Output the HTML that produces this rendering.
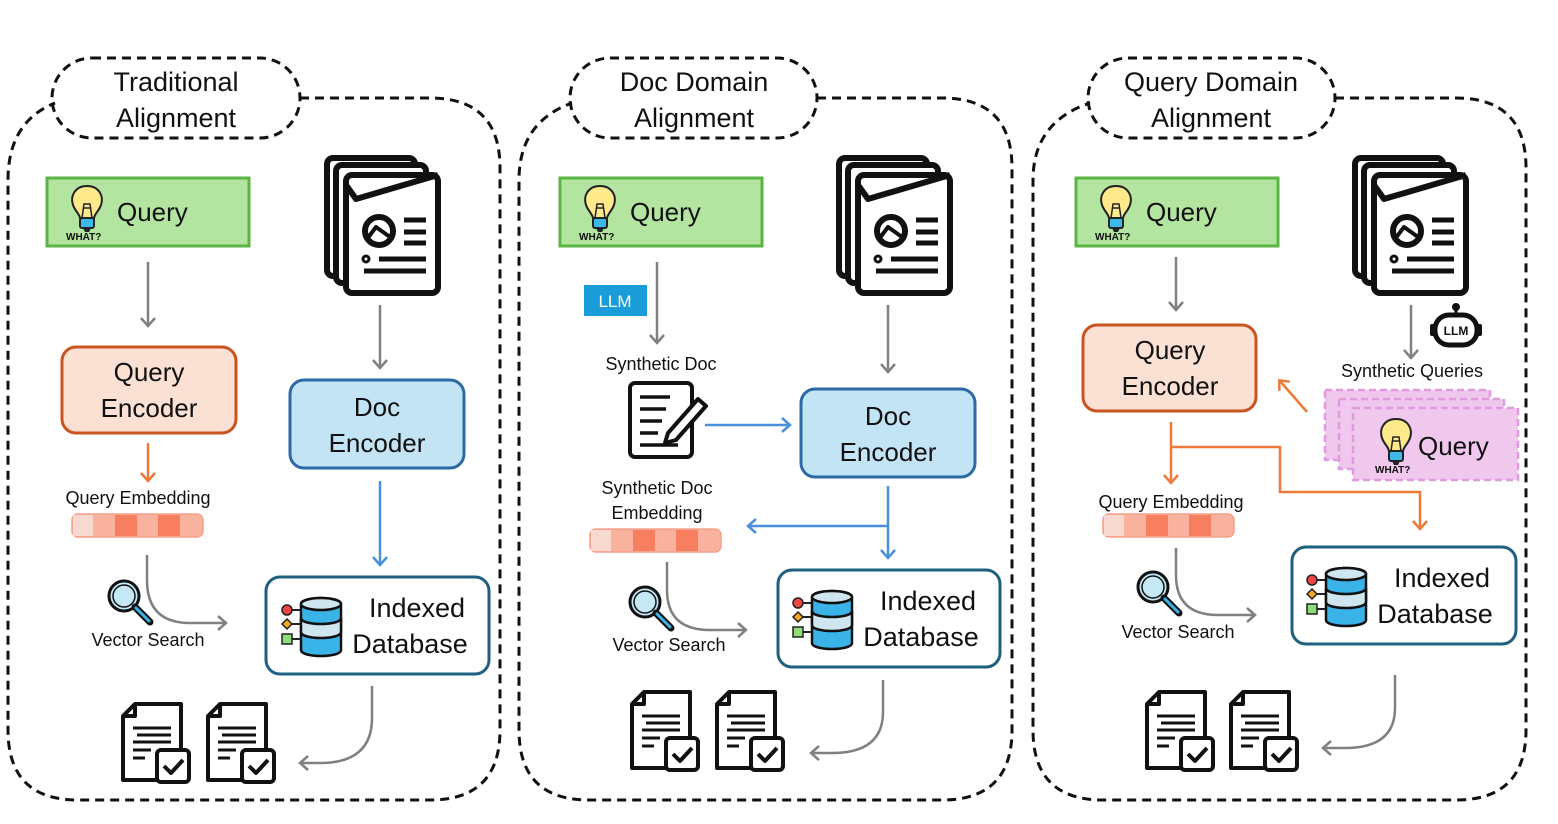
<!DOCTYPE html>
<html><head><meta charset="utf-8"><style>
html,body{margin:0;padding:0;background:#fff;}
svg{display:block;font-family:"Liberation Sans","DejaVu Sans",sans-serif;}
</style></head><body>
<svg width="1558" height="824" viewBox="0 0 1558 824" xmlns="http://www.w3.org/2000/svg">
<defs>
<marker id="ag" markerWidth="16" markerHeight="16" refX="8" refY="8" orient="auto" markerUnits="userSpaceOnUse"><path d="M1,1 L9,8 L1,15" fill="none" stroke="#808080" stroke-width="2.5"/></marker>
<marker id="ab" markerWidth="16" markerHeight="16" refX="8" refY="8" orient="auto" markerUnits="userSpaceOnUse"><path d="M1,1 L9,8 L1,15" fill="none" stroke="#4a90d9" stroke-width="2.5"/></marker>
<marker id="ao" markerWidth="16" markerHeight="16" refX="8" refY="8" orient="auto" markerUnits="userSpaceOnUse"><path d="M1,1 L9,8 L1,15" fill="none" stroke="#ee7a3a" stroke-width="2.5"/></marker>
<g id="bulb">
<path d="M20,4 C8,4 3,14 6,23 C8,29 12,31 13,36 L27,36 C28,31 32,29 34,23 C37,14 32,4 20,4Z" fill="#ffe98a" stroke="#222" stroke-width="2"/>
<path d="M15,36 L17,22 L23,22 L25,36 M16,26 L24,26" fill="none" stroke="#222" stroke-width="1.5"/>
<rect x="13" y="36" width="14" height="10" rx="2" fill="#3cb9e8" stroke="#222" stroke-width="2"/>
<path d="M16,46 L24,46 L22,50 L18,50Z" fill="#222"/>
</g>
<g id="docs" fill="#fff" stroke="#111" stroke-width="6" stroke-linejoin="round">
<rect x="3" y="3" width="88" height="118" rx="6"/>
<rect x="12" y="10" width="90" height="118" rx="6"/>
<rect x="22" y="20" width="92" height="118" rx="6"/>
<path d="M22,30 L32,44 L114,20" fill="none"/>
<circle cx="55" cy="76" r="14" fill="none"/>
<path d="M43,84 L52,72 L66,82" fill="none" stroke-width="4"/>
<path d="M80,65 L102,65 M80,77 L102,77 M80,88 L102,88 M55,104 L102,104 M40,116 L102,116" stroke-width="5"/>
<circle cx="42" cy="104" r="3" stroke-width="3"/>
</g>
<g id="db">
<rect x="3" y="9" width="10" height="10" rx="5" fill="#ef4444" stroke="#222" stroke-width="1.5"/>
<path d="M8,23 L13,28 L8,33 L3,28Z" fill="#f5a623" stroke="#222" stroke-width="1.5"/>
<rect x="3" y="38" width="10" height="10" fill="#8fdc7a" stroke="#222" stroke-width="1.5"/>
<path d="M13,14 H24 M13,28 H24 M13,43 H24" stroke="#222" stroke-width="2"/>
<path d="M22,8 C22,0 62,0 62,8 L62,54 C62,62 22,62 22,54Z" fill="#3ab4e8" stroke="#111" stroke-width="2.5"/>
<path d="M22,22 C22,30 62,30 62,22 L62,36 C62,44 22,44 22,36Z" fill="#cfe6f0" stroke="#111" stroke-width="2.5"/>
<ellipse cx="42" cy="8" rx="20" ry="6" fill="#cfe6f0" stroke="#111" stroke-width="2.5"/>
</g>
<g id="mag">
<circle cx="18" cy="18" r="15" fill="#c5e8f7" stroke="#111" stroke-width="3"/>
<circle cx="18" cy="18" r="11" fill="none" stroke="#111" stroke-width="1.5"/>
<path d="M29,29 L44,44" stroke="#111" stroke-width="7" stroke-linecap="round"/>
<path d="M30,30 L43,43" stroke="#3ab4e8" stroke-width="3" stroke-linecap="round"/>
</g>
<g id="res" fill="#fff" stroke="#111" stroke-width="4" stroke-linejoin="round">
<path d="M14,2 L60,2 L60,78 L2,78 L2,14Z"/>
<path d="M2,14 L14,14 L14,2" fill="none"/>
<path d="M12,26 H50 M16,33 H50 M12,40 H50 M12,48 H30 M12,56 H24" stroke-width="3"/>
<rect x="36" y="48" width="32" height="32" rx="4"/>
<path d="M43,64 L50,71 L62,58" fill="none" stroke-width="4"/>
</g>
<g id="write" fill="#fff" stroke="#111" stroke-width="4" stroke-linejoin="round">
<rect x="2" y="2" width="62" height="74" rx="5"/>
<path d="M12,16 H42 M12,28 H38 M12,40 H34 M12,52 H30 M12,64 H50" stroke-width="3.5"/>
<path d="M40,52 L70,18 L78,25 L48,59 L37,62Z"/>
</g>
<g id="robot">
<circle cx="26" cy="4" r="4" fill="#111"/>
<path d="M26,6 V12" stroke="#111" stroke-width="3"/>
<rect x="5" y="12" width="42" height="30" rx="14" fill="#fff" stroke="#111" stroke-width="5"/>
<rect x="0" y="21" width="5" height="12" rx="2" fill="#111"/>
<rect x="47" y="21" width="5" height="12" rx="2" fill="#111"/>
<text x="26" y="32" font-size="12" font-weight="bold" text-anchor="middle" fill="#111">LLM</text>
</g>
</defs>

<g fill="none" stroke="#111" stroke-width="3" stroke-dasharray="9,6">
<path d="M300,98 L430,98 Q500,98 500,168 L500,730 Q500,800 430,800 L78,800 Q8,800 8,730 L8,180 Q8,122 55,103"/>
<rect x="52" y="58" width="248" height="80" rx="40"/>
<path d="M817,98 L942,98 Q1012,98 1012,168 L1012,730 Q1012,800 942,800 L589,800 Q519,800 519,730 L519,180 Q519,122 572,103"/>
<rect x="570" y="58" width="247" height="80" rx="40"/>
<path d="M1335,98 L1456,98 Q1526,98 1526,168 L1526,730 Q1526,800 1456,800 L1103,800 Q1033,800 1033,730 L1033,180 Q1033,122 1090,103"/>
<rect x="1088" y="58" width="247" height="80" rx="40"/>
</g>
<g font-size="27" fill="#111" text-anchor="middle">
<text x="176" y="91">Traditional</text><text x="176" y="127">Alignment</text>
<text x="694" y="91">Doc Domain</text><text x="694" y="127">Alignment</text>
<text x="1211" y="91">Query Domain</text><text x="1211" y="127">Alignment</text>
</g>

<!-- Query boxes -->
<g fill="#b3e5a1" stroke="#5bb544" stroke-width="3">
<rect x="47" y="178" width="202" height="68"/>
<rect x="560" y="178" width="202" height="68"/>
<rect x="1076" y="178" width="202" height="68"/>
</g>
<use href="#bulb" x="67" y="182"/><use href="#bulb" x="580" y="182"/><use href="#bulb" x="1096" y="182"/>
<g font-size="10" font-weight="bold" fill="#111">
<text x="66" y="240">WHAT?</text><text x="579" y="240">WHAT?</text><text x="1095" y="240">WHAT?</text>
</g>
<g font-size="26" fill="#111">
<text x="117" y="221">Query</text><text x="630" y="221">Query</text><text x="1146" y="221">Query</text>
</g>

<!-- docs stacks -->
<use href="#docs" x="324" y="155"/><use href="#docs" x="836" y="155"/><use href="#docs" x="1352" y="155"/>

<!-- Encoders -->
<rect x="62" y="347" width="174" height="86" rx="14" fill="#fbe0d4" stroke="#c9541f" stroke-width="3"/>
<rect x="1083" y="325" width="173" height="86" rx="14" fill="#fbe0d4" stroke="#c9541f" stroke-width="3"/>
<rect x="290" y="380" width="174" height="88" rx="14" fill="#c3e4f5" stroke="#2c6aa6" stroke-width="3"/>
<rect x="801" y="389" width="174" height="88" rx="14" fill="#c3e4f5" stroke="#2c6aa6" stroke-width="3"/>
<g font-size="26" fill="#111" text-anchor="middle">
<text x="149" y="381">Query</text><text x="149" y="417">Encoder</text>
<text x="1170" y="359">Query</text><text x="1170" y="395">Encoder</text>
<text x="377" y="416">Doc</text><text x="377" y="452">Encoder</text>
<text x="888" y="425">Doc</text><text x="888" y="461">Encoder</text>
</g>

<!-- Indexed DBs -->
<g fill="#fff" stroke="#1f5f80" stroke-width="3">
<rect x="266" y="577" width="223" height="97" rx="14"/>
<rect x="778" y="570" width="222" height="97" rx="14"/>
<rect x="1292" y="547" width="224" height="97" rx="14"/>
</g>
<use href="#db" x="279" y="596"/><use href="#db" x="790" y="589"/><use href="#db" x="1304" y="566"/>
<g font-size="27" fill="#111" text-anchor="middle">
<text x="417" y="617">Indexed</text><text x="410" y="653">Database</text>
<text x="928" y="610">Indexed</text><text x="921" y="646">Database</text>
<text x="1442" y="587">Indexed</text><text x="1435" y="623">Database</text>
</g>

<!-- embedding bars -->
<g id="bar1">
<rect x="72" y="514" width="131" height="23" rx="6" fill="#f8b29e" stroke="#f4a08a" stroke-width="1.5"/>
<rect x="73" y="515" width="20" height="21" fill="#f7d9cf"/>
<rect x="115" y="515" width="22" height="21" fill="#f77f5f"/>
<rect x="158" y="515" width="22" height="21" fill="#f77f5f"/>
</g>
<use href="#bar1" x="518" y="15"/>
<use href="#bar1" x="1031" y="0"/>

<g font-size="18" fill="#111" text-anchor="middle">
<text x="138" y="504">Query Embedding</text>
<text x="1171" y="508">Query Embedding</text>
<text x="148" y="646">Vector Search</text>
<text x="669" y="651">Vector Search</text>
<text x="1178" y="638">Vector Search</text>
<text x="661" y="370">Synthetic Doc</text>
<text x="657" y="494">Synthetic Doc</text>
<text x="657" y="519">Embedding</text>
<text x="1412" y="377">Synthetic Queries</text>
</g>

<use href="#mag" x="106" y="578"/><use href="#mag" x="627" y="584"/><use href="#mag" x="1135" y="569"/>
<use href="#res" x="121" y="702"/><use href="#res" x="206" y="702"/>
<use href="#res" x="630" y="690"/><use href="#res" x="715" y="690"/>
<use href="#res" x="1145" y="690"/><use href="#res" x="1229" y="690"/>

<!-- LLM label -->
<rect x="584" y="285" width="63" height="31" fill="#1a9cd8"/>
<text x="615" y="307" font-size="17" fill="#fff" text-anchor="middle">LLM</text>
<use href="#write" x="628" y="381"/>
<use href="#robot" x="1430" y="303"/>

<!-- pink synthetic queries -->
<g fill="#f0c8ee" stroke="#e19ae0" stroke-width="2.5" stroke-dasharray="7,4">
<rect x="1325" y="390" width="165" height="70"/>
<rect x="1339" y="399" width="165" height="70"/>
<rect x="1353" y="408" width="165" height="72"/>
</g>
<use href="#bulb" x="1376" y="415"/>
<text x="1375" y="473" font-size="10" font-weight="bold" fill="#111">WHAT?</text>
<text x="1418" y="455" font-size="26" fill="#111">Query</text>

<!-- arrows gray -->
<g fill="none" stroke="#808080" stroke-width="2.5">
<path d="M148,262 V325" marker-end="url(#ag)"/>
<path d="M380,305 V367" marker-end="url(#ag)"/>
<path d="M657,262 V342" marker-end="url(#ag)"/>
<path d="M888,305 V371" marker-end="url(#ag)"/>
<path d="M1176,257 V309" marker-end="url(#ag)"/>
<path d="M1411,305 V357" marker-end="url(#ag)"/>
<path d="M147,555 V580 Q147,623 190,623 L225,623" marker-end="url(#ag)"/>
<path d="M667,562 V590 Q667,630 710,630 L745,630" marker-end="url(#ag)"/>
<path d="M1176,548 V575 Q1176,615 1218,615 L1254,615" marker-end="url(#ag)"/>
<path d="M372,686 V718 Q372,763 320,763 L301,763" marker-end="url(#ag)"/>
<path d="M883,680 V712 Q883,753 832,753 L812,753" marker-end="url(#ag)"/>
<path d="M1395,675 V708 Q1395,748 1345,748 L1324,748" marker-end="url(#ag)"/>
</g>
<!-- blue -->
<g fill="none" stroke="#4a90d9" stroke-width="2.5">
<path d="M380,481 V564" marker-end="url(#ab)"/>
<path d="M705,425 H789" marker-end="url(#ab)"/>
<path d="M888,486 V557" marker-end="url(#ab)"/>
<path d="M888,526 H749" marker-end="url(#ab)"/>
</g>
<!-- orange -->
<g fill="none" stroke="#ee7a3a" stroke-width="2.5">
<path d="M148,443 V480" marker-end="url(#ao)"/>
<path d="M1171,422 V482" marker-end="url(#ao)"/>
<path d="M1171,447 H1280 V492 H1420 V528" marker-end="url(#ao)"/>
<path d="M1307,412 L1280,381" marker-end="url(#ao)"/>
</g>
</svg>
</body></html>
